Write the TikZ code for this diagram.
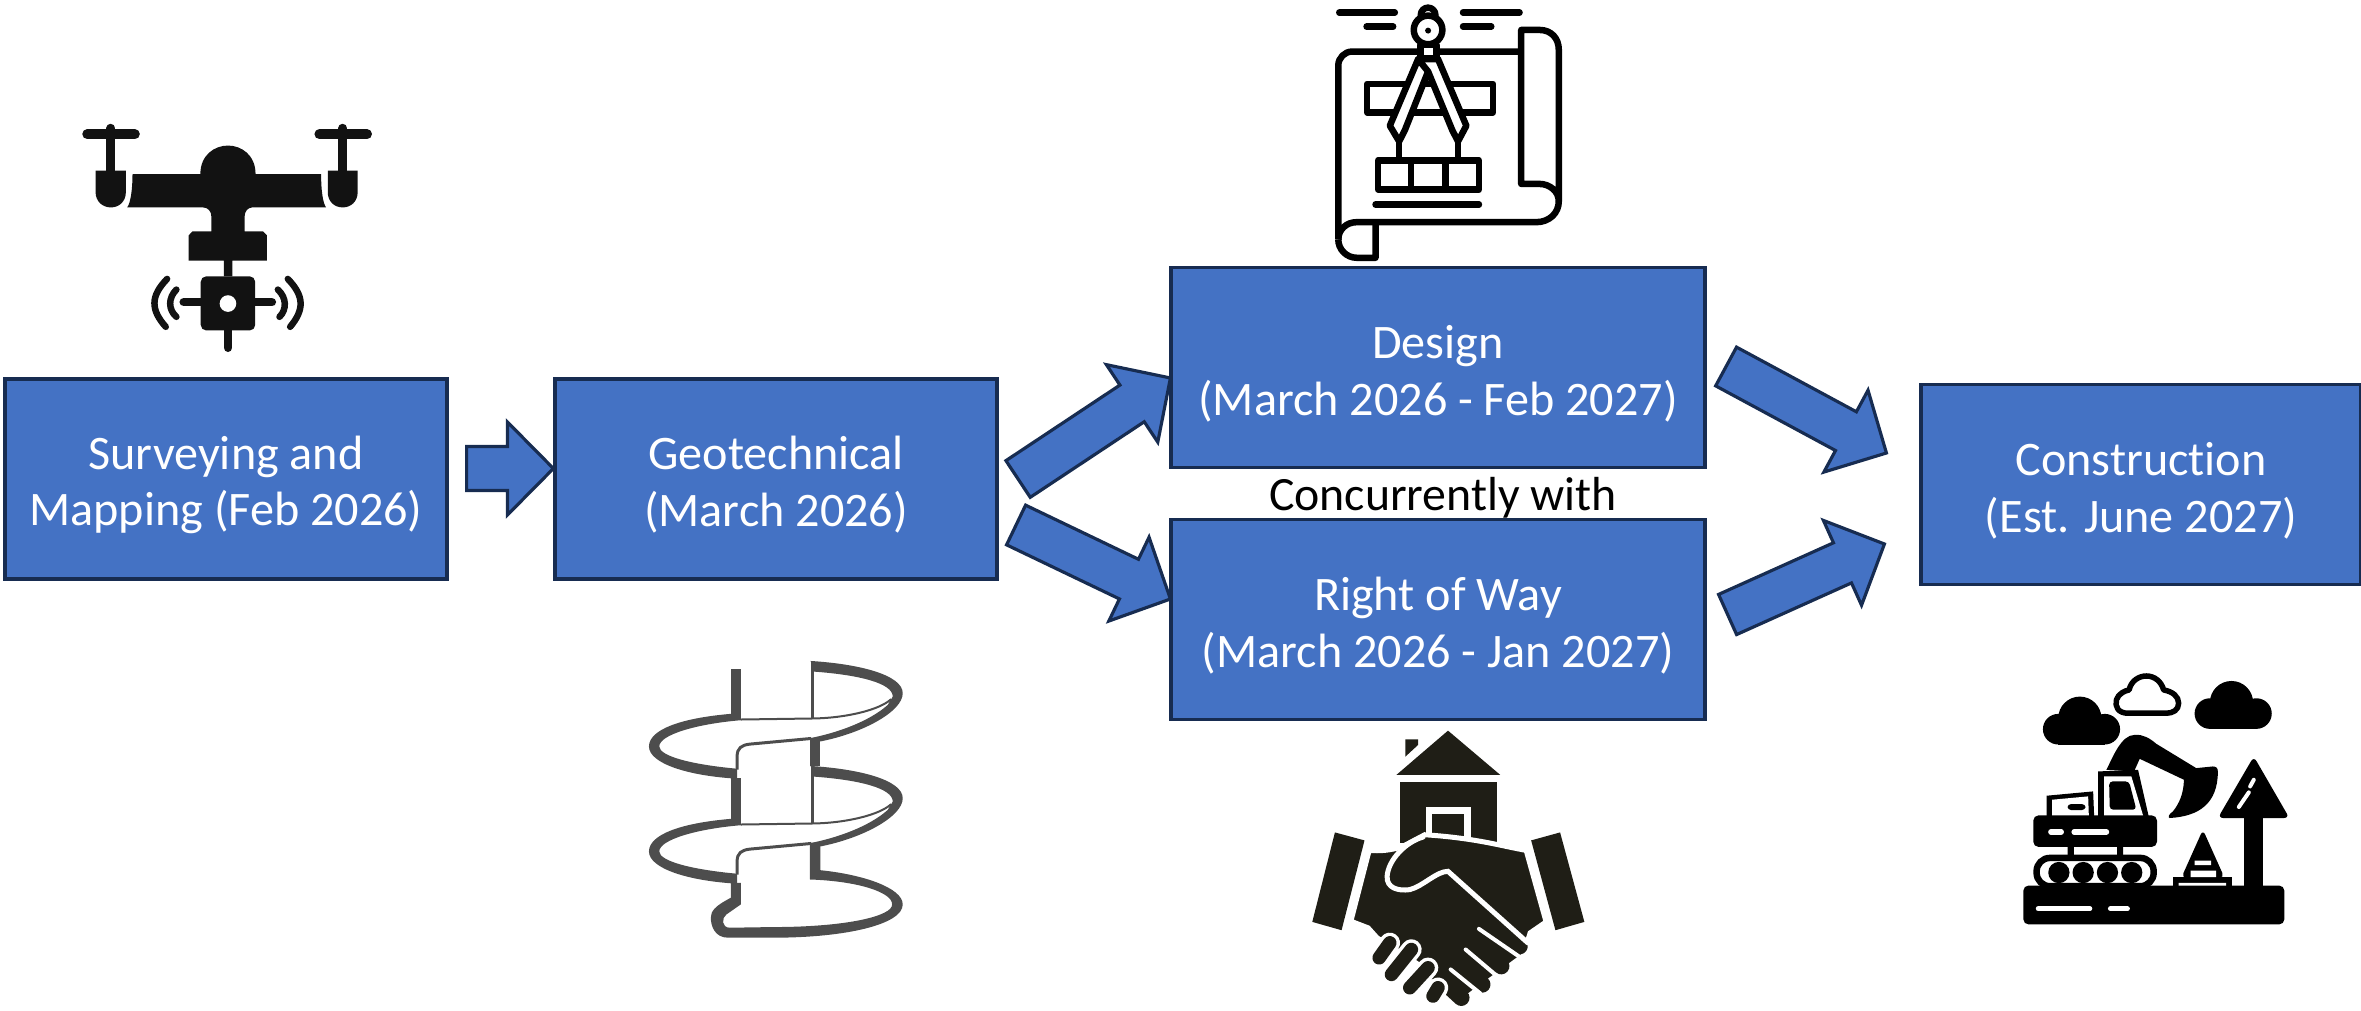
\documentclass[tikz,border=0pt]{standalone}
\usepackage{fontspec}
\usepackage{xcolor}
\usepackage{tikz}
\usetikzlibrary{calc}
\setmainfont{Carlito}[Ligatures=CommonOff]
\definecolor{boxblue}{HTML}{4472C4}
\definecolor{boxline}{HTML}{172C51}
\definecolor{augergray}{HTML}{4D4D4D}
\definecolor{handdark}{HTML}{1F1E16}

\newcommand{\topgap}{\rule{0pt}{12.9pt}}
\newcommand{\blockarrow}[4]{
    \coordinate (tail) at ($(#1)+(#2)$);
    \coordinate (tip) at ($(#3)+(#4)$);
    \coordinate (neck) at ($(tip)!0.46cm!(tail)$);
    \draw[blockarrow] ($(tail)!0.22cm!90:(tip)$) -- ($(neck)!0.22cm!90:(tip)$)
        -- ($(neck)!0.465cm!90:(tip)$) -- (tip) -- ($(neck)!0.465cm!-90:(tip)$)
        -- ($(neck)!0.22cm!-90:(tip)$) -- ($(tail)!0.22cm!-90:(tip)$) -- cycle;
}
\newcommand{\augerturn}{
    \fill (303,192) .. controls (150,205) and (57,240) .. (57,290)
        .. controls (57,340) and (170,378) .. (322,387) -- (322,357)
        .. controls (190,345) and (88,320) .. (88,290)
        .. controls (88,255) and (200,222) .. (335,211) -- (303,211) -- cycle;
    \fill (543,33) .. controls (690,42) and (820,75) .. (820,130)
        .. controls (820,185) and (700,250) .. (572,275) -- (541,265)
        .. controls (620,250) and (720,215) .. (775,165) -- (790,140)
        .. controls (790,100) and (690,75) .. (553,65) -- cycle;
    \draw[line width=0.03cm] (548,40) -- (548,205);
    \draw[line width=0.02cm] (333,209) -- (545,206) .. controls (650,205) and (750,180) .. (785,148);
    \draw[line width=0.03cm] (545,266) -- (360,283) .. controls (335,286) and (322,295) .. (322,320) -- (322,360);
}

\begin{document}
\begin{tikzpicture}[node distance=5.5cm,
    stagebox/.style={rectangle,draw=boxline,fill=boxblue,text=white,line width=0.9pt,
        minimum width=4.42cm,minimum height=2cm,align=center,
        font=\fontsize{13.7}{16.2}\selectfont},
    widebox/.style={stagebox,minimum width=5.34cm},
    blockarrow/.style={draw=boxline,fill=boxblue,line width=0.9pt,miter limit=10},
    icon/.style 2 args={shift={(#1,#2)},x=0.003333cm,y=-0.003333cm}]

\useasboundingbox (0,0) rectangle (23.61,10.1);

\node[stagebox] (Survey) at (2.26,5.31) {\topgap Surveying and\\Mapping (Feb 2026)};
\node[stagebox] (Geotech) [right of=Survey] {\topgap Geotechnical\\(March 2026)};
\node[widebox] (Design) [right of=Geotech,xshift=1.12cm,yshift=1.115cm] {\topgap Design\\(March 2026 - Feb 2027)};
\node[widebox] (Way) [below of=Design,node distance=2.52cm] {\topgap Right of Way\\(March 2026 - Jan 2027)};
\node[stagebox,minimum width=4.4cm] (Construct) [right of=Design,xshift=1.53cm,yshift=-1.17cm] {\topgap Construction\\(Est. June 2027)};
\node[font=\fontsize{13.6}{16.2}\selectfont,inner sep=0pt] (Concurrent) [below of=Design,node distance=1.3cm,xshift=0.05cm] {Concurrently with};

\blockarrow{Survey.east}{0.18,0.105}{Geotech.west}{0,0.105}
\blockarrow{Geotech.east}{0.195,0}{Design.west}{0.01,-0.105}
\blockarrow{Geotech.east}{0.175,-0.46}{Way.west}{0.01,0.205}
\blockarrow{Design.east}{0.195,0.01}{Construct.west}{-0.33,0.315}
\blockarrow{Way.east}{0.21,0.05}{Construct.west}{-0.35,-0.595}

\begin{scope}[icon={0.6}{9.1},color=black!93]
    \draw[line width=0.1cm,line cap=round] (82,103) -- (225,103) (780,103) -- (923,103);
    \draw[line width=0.09cm,line cap=round] (153,85) -- (153,225) (850,85) -- (850,225);
    \fill (107,212) -- (198,212) -- (198,277) .. controls (198,305) and (178,323) .. (153,323)
        .. controls (128,323) and (107,305) .. (107,277) -- cycle;
    \fill (805,212) -- (895,212) -- (895,277) .. controls (895,305) and (875,323) .. (850,323)
        .. controls (825,323) and (805,305) .. (805,277) -- cycle;
    \fill (218,223) -- (422,223) .. controls (422,165) and (465,137) .. (505,137)
        .. controls (545,137) and (588,165) .. (588,223) -- (785,223)
        .. controls (785,270) and (790,310) .. (800,323) -- (578,323)
        .. controls (565,323) and (555,335) .. (555,350) -- (555,395) -- (610,395) -- (622,407)
        -- (622,483) -- (518,483) -- (518,530) -- (493,530) -- (493,483) -- (387,483) -- (387,407)
        -- (398,395) -- (455,395) -- (455,350) .. controls (455,335) and (445,323) .. (430,323)
        -- (202,323) .. controls (212,310) and (218,270) .. (218,223) -- cycle;
    \fill[rounded corners=1.6pt] (423,530) rectangle (587,693);
    \fill[white] (505,612) circle[radius=25];
    \draw[line width=0.085cm,line cap=round] (372,608) -- (423,608) (587,608) -- (637,608) (505,693) -- (505,745);
    \draw[line width=0.065cm,line cap=round] (350,570) .. controls (325,595) and (325,630) .. (350,652)
        (322,538) .. controls (272,590) and (272,630) .. (318,682)
        (655,570) .. controls (682,595) and (682,630) .. (660,652)
        (685,538) .. controls (735,590) and (735,630) .. (692,682);
\end{scope}

\begin{scope}[icon={13.1}{10.1},line width=0.065cm,line join=round]
    \draw[rounded corners=4pt] (635,155) -- (85,155) -- (85,720);
    \draw (85,720) .. controls (85,750) and (110,775) .. (140,775) -- (197,775) -- (197,668);
    \draw (85,720) .. controls (85,690) and (110,668) .. (140,668) -- (680,668)
        .. controls (720,668) and (748,640) .. (748,605);
    \draw (635,90) -- (690,90) .. controls (725,90) and (748,115) .. (748,150) -- (748,605)
        .. controls (748,575) and (720,553) .. (690,553) -- (635,553) -- cycle;
    \draw[line cap=round] (88,38) -- (255,38) (170,80) -- (250,80) (460,38) -- (630,38) (460,80) -- (545,80)
        (197,615) -- (508,615);
    \draw (172,252) rectangle (550,338);
    \draw[fill=white] (325,178) -- (240,378) -- (268,425) -- (285,392) -- (355,215) -- (385,178) -- cycle;
    \draw[fill=white] (385,178) -- (470,378) -- (445,425) -- (428,392) -- (355,215) -- (325,178) -- cycle;
    \draw (268,425) -- (268,480) (445,425) -- (445,480);
    \draw (205,482) rectangle (508,570) (303,482) -- (303,570) (407,482) -- (407,570);
    \draw (355,45) circle[radius=22];
    \draw[fill=white] (355,90) circle[radius=43];
    \fill (355,92) circle[radius=9];
    \draw[fill=white] (332,135) rectangle (380,175);
\end{scope}

\begin{scope}[icon={6.3}{3.6},color=augergray]
    \augerturn
    \begin{scope}[yshift=-1.05cm]
        \augerturn
    \end{scope}
    \fill (303,58) rectangle (333,211);
    \fill (303,385) rectangle (333,525);
    \fill (541,265) rectangle (572,350);
    \fill (541,580) -- (572,580) -- (572,662) .. controls (700,675) and (820,715) .. (820,765)
        .. controls (820,825) and (650,865) .. (430,865) -- (295,865)
        .. controls (255,865) and (243,830) .. (243,805) .. controls (243,785) and (255,770) .. (303,745)
        -- (303,700) -- (333,700) -- (333,765) -- (290,795) .. controls (275,805) and (275,835) .. (300,835)
        -- (430,833) .. controls (650,833) and (790,800) .. (788,765)
        .. controls (790,730) and (690,695) .. (541,690) -- cycle;
\end{scope}

\begin{scope}[icon={12.9}{2.9},color=handdark]
    \fill (320,165) -- (475,32) -- (632,165) -- cycle;
    \fill (347,58) -- (385,58) -- (385,75) -- (347,110) -- cycle;
    \fill (330,187) rectangle (622,370);
    \fill[white] (410,262) rectangle (543,370);
    \fill (428,283) rectangle (523,370);
    \fill (135,338) -- (224,362) -- (155,632) -- (67,607) -- cycle;
    \fill (812,338) -- (725,362) -- (798,632) -- (885,607) -- cycle;
    \draw[white,line width=0.05cm,fill=handdark] (238,392) .. controls (270,395) and (300,392) .. (335,382) -- (405,345)
        .. controls (560,355) and (640,380) .. (710,392) -- (770,607) -- (722,640) -- (700,710) -- (530,835)
        -- (440,770) -- (262,655) -- (235,625) -- (183,605) -- cycle;
    \draw[line width=0.165cm,line cap=round] (590,600) -- (690,680) (520,640) -- (635,740) (470,700) -- (578,795) (450,775) -- (515,835);
    \draw[white,line width=0.04cm,line cap=round] (568,628) -- (690,712) (528,690) -- (632,778) (483,750) -- (572,822);
    \draw[white,line width=0.05cm,line cap=round] (400,352) .. controls (350,365) and (295,420) .. (292,470)
        .. controls (290,505) and (325,515) .. (360,510) .. controls (400,500) and (440,455) .. (475,455) -- (715,670);
    \draw[white,line width=0.205cm,line cap=round] (300,670) -- (268,715) (365,690) -- (305,765) (415,745) -- (360,805) (445,805) -- (430,830);
    \draw[line width=0.135cm,line cap=round] (300,670) -- (268,715) (365,690) -- (305,765) (415,745) -- (360,805) (445,805) -- (430,830);
\end{scope}

\begin{scope}[icon={20}{3.4}]
    \fill (240,145) circle[radius=65];
    \fill (175,178) circle[radius=46];
    \fill (315,178) circle[radius=46];
    \fill (175,178) rectangle (315,224);
    \fill (696,98) circle[radius=65];
    \fill (631,131) circle[radius=46];
    \fill (771,131) circle[radius=46];
    \fill (631,131) rectangle (771,177);
    \draw[line width=0.055cm,line join=round] (385,130) .. controls (355,130) and (345,110) .. (350,90)
        .. controls (355,72) and (375,62) .. (388,60) .. controls (395,30) and (420,18) .. (440,18)
        .. controls (465,18) and (485,35) .. (492,60) .. controls (520,65) and (537,80) .. (537,100)
        .. controls (537,120) and (520,130) .. (500,130) -- cycle;
    \fill[rounded corners=1.5pt] (70,648) rectangle (855,765);
    \draw[white,line width=0.05cm,line cap=round] (115,718) -- (270,718) (332,718) -- (383,718);
    \draw[line width=0.065cm,rounded corners=3.8pt] (110,565) rectangle (462,650);
    \fill (177,609) circle[radius=32] (250,609) circle[radius=32] (323,609) circle[radius=32] (396,609) circle[radius=32];
    \fill (203,530) rectangle (222,560) (352,530) rectangle (370,560);
    \fill[rounded corners=1.5pt] (100,437) rectangle (472,532);
    \draw[white,line width=0.055cm,line cap=round] (153,487) -- (184,487) (223,487) -- (320,487);
    \fill (140,440) -- (140,378) -- (280,365) -- (283,440) -- cycle;
    \fill[white] (157,437) -- (157,390) -- (265,380) -- (267,437) -- cycle;
    \fill[rounded corners=1pt] (203,403) rectangle (257,421);
    \fill (295,440) -- (295,305) -- (415,300) -- (447,440) -- cycle;
    \fill[white] (313,437) -- (313,320) -- (395,320) -- (430,437) -- cycle;
    \fill[rounded corners=1pt] (328,335) -- (388,335) -- (410,420) -- (330,420) -- cycle;
    \fill (320,300) .. controls (340,260) and (365,195) .. (405,195) .. controls (430,193) and (450,205) .. (470,222)
        -- (590,295) -- (640,290) .. controls (650,290) and (655,295) .. (655,305)
        .. controls (655,400) and (600,440) .. (510,445) .. controls (505,445) and (505,435) .. (520,425)
        .. controls (540,400) and (552,370) .. (553,330) -- (420,267) -- (403,305) -- cycle;
    \fill[rounded corners=1.5pt] (763,260) -- (870,445) -- (655,445) -- cycle;
    \fill (735,440) rectangle (790,650);
    \draw[white,line width=0.04cm,line cap=round] (763,330) -- (752,350) (748,368) -- (718,412);
    \fill (520,623) rectangle (697,650);
    \fill[rounded corners=1.5pt] (610,480) -- (675,625) -- (545,625) -- cycle;
    \fill[white] (585,573) rectangle (635,587) (573,603) rectangle (650,623) (537,640) rectangle (680,648);
\end{scope}

\end{tikzpicture}
\end{document}
